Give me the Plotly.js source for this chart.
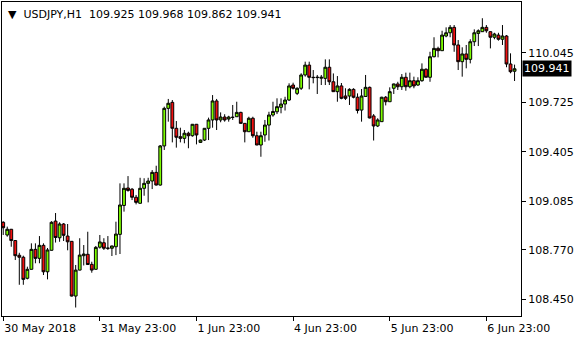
<!DOCTYPE html>
<html>
<head>
<meta charset="utf-8">
<script src="https://cdn.plot.ly/plotly-3.0.1.min.js"></script>
<style>html,body{margin:0;padding:0;background:#fff;}#chart{width:580px;height:340px;}</style>
</head>
<body>
<div id="chart"></div>
<script>
// USDJPY H1 bars, 30 May 2018 23:00 onwards
const openP = [108.948,108.866,108.903,108.830,108.735,108.722,108.586,108.644,108.773,108.715,
108.799,108.628,108.767,108.956,108.848,108.937,108.859,108.825,108.471,108.639,
108.732,108.741,108.676,108.644,108.787,108.816,108.781,108.780,108.790,108.870,
109.057,109.170,109.162,109.110,109.071,109.168,109.200,109.215,109.271,109.189,
109.442,109.685,109.724,109.556,109.502,109.491,109.524,109.508,109.582,109.465,
109.480,109.556,109.610,109.733,109.610,109.629,109.616,109.627,109.631,109.659,
109.588,109.534,109.621,109.508,109.448,109.513,109.577,109.642,109.663,109.692,
109.713,109.739,109.836,109.782,109.815,109.901,109.965,109.886,109.884,109.880,
109.879,109.951,109.857,109.793,109.830,109.765,109.765,109.808,109.757,109.674,
109.762,109.821,109.636,109.571,109.599,109.757,109.728,109.815,109.843,109.825,
109.886,109.825,109.864,109.836,109.864,109.938,109.886,110.019,110.073,110.058,
110.153,110.174,110.209,110.095,109.987,110.037,110.002,110.116,110.170,110.181,
110.209,110.181,110.145,110.159,110.132,110.153,109.972,109.925];

const highP = [108.955,108.920,108.905,108.833,108.751,108.732,108.661,108.812,108.812,108.859,
108.812,108.782,108.955,109.008,108.948,108.943,108.937,108.827,108.672,108.845,
108.801,108.887,108.693,108.795,108.866,108.845,108.859,108.797,108.952,109.200,
109.200,109.247,109.170,109.125,109.236,109.233,109.236,109.286,109.314,109.448,
109.696,109.746,109.739,109.603,109.560,109.545,109.534,109.584,109.584,109.483,
109.558,109.625,109.771,109.746,109.659,109.647,109.637,109.707,109.728,109.663,
109.590,109.631,109.631,109.534,109.534,109.610,109.663,109.728,109.750,109.750,
109.760,109.847,109.851,109.821,109.912,109.987,109.987,109.933,109.901,109.901,
110.002,110.002,109.911,109.894,109.849,109.815,109.815,109.815,109.782,109.810,
109.901,109.826,109.648,109.621,109.760,109.765,109.821,109.845,109.857,109.907,
109.916,109.916,109.890,109.886,109.976,109.944,110.051,110.145,110.084,110.187,
110.209,110.224,110.224,110.127,110.080,110.095,110.132,110.196,110.196,110.268,
110.224,110.183,110.174,110.174,110.224,110.159,110.041,109.968];

const lowP = [108.866,108.855,108.790,108.704,108.544,108.544,108.579,108.642,108.683,108.683,
108.607,108.579,108.765,108.817,108.822,108.827,108.767,108.468,108.397,108.637,
108.669,108.673,108.622,108.642,108.778,108.769,108.769,108.730,108.736,108.743,
109.017,109.146,109.092,109.064,109.069,109.120,109.077,109.163,109.186,109.185,
109.416,109.599,109.465,109.431,109.465,109.459,109.427,109.502,109.452,109.461,
109.474,109.480,109.560,109.545,109.595,109.599,109.599,109.610,109.629,109.586,
109.465,109.533,109.495,109.447,109.372,109.469,109.477,109.631,109.648,109.653,
109.671,109.733,109.807,109.771,109.804,109.890,109.808,109.847,109.778,109.836,
109.836,109.836,109.791,109.728,109.744,109.739,109.707,109.750,109.652,109.599,
109.760,109.620,109.477,109.564,109.598,109.704,109.727,109.778,109.804,109.804,
109.799,109.815,109.815,109.830,109.857,109.885,109.857,110.015,110.015,110.056,
110.145,110.145,110.051,109.933,109.890,109.944,109.976,110.088,110.088,110.180,
110.174,110.073,110.132,110.123,110.095,109.951,109.912,109.862];

const closeP = [108.913,108.903,108.830,108.732,108.722,108.579,108.644,108.773,108.715,108.799,
108.628,108.769,108.948,108.850,108.937,108.864,108.822,108.471,108.639,108.736,
108.743,108.675,108.639,108.786,108.821,108.780,108.780,108.795,108.872,109.060,
109.168,109.154,109.110,109.077,109.168,109.200,109.215,109.271,109.189,109.442,
109.685,109.718,109.556,109.498,109.491,109.524,109.508,109.582,109.513,109.480,
109.556,109.610,109.733,109.610,109.629,109.610,109.629,109.627,109.659,109.588,
109.534,109.621,109.508,109.448,109.508,109.577,109.642,109.665,109.696,109.713,
109.739,109.830,109.815,109.815,109.901,109.965,109.886,109.884,109.886,109.886,
109.951,109.857,109.793,109.830,109.750,109.750,109.808,109.757,109.671,109.765,
109.821,109.623,109.571,109.610,109.757,109.728,109.793,109.843,109.825,109.886,
109.825,109.864,109.830,109.864,109.938,109.886,110.019,110.073,110.058,110.159,
110.174,110.209,110.095,109.987,110.037,110.002,110.116,110.174,110.187,110.209,
110.187,110.145,110.166,110.132,110.153,109.972,109.922,109.941];

const xTickBars = [0, 24, 48, 72, 96, 120];
const xTickLabels = ['30 May 2018', '31 May 23:00', '1 Jun 23:00', '4 Jun 23:00', '5 Jun 23:00', '6 Jun 23:00'];
const yTickVals = [110.045, 109.725, 109.405, 109.085, 108.770, 108.450];
const yTickLabels = ['110.045', '109.725', '109.405', '109.085', '108.770', '108.450'];
const symbol = 'USDJPY,H1';
const lastPrice = 109.941;

const barIndex = openP.map((_, i) => i);
const last = openP.length - 1;
const fnt = 'DejaVu Sans, sans-serif';
const fmt = v => v.toFixed(3);
const header = '\u25BC\u00A0\u00A0' + symbol + '\u00A0\u00A0' +
  [openP[last], highP[last], lowP[last], closeP[last]].map(fmt).join(' ');

const trace = {
  type: 'candlestick',
  x: barIndex,
  open: openP, high: highP, low: lowP, close: closeP,
  increasing: {line: {color: '#000000', width: 1}, fillcolor: '#7CFC00'},
  decreasing: {line: {color: '#000000', width: 1}, fillcolor: '#F01010'},
  whiskerwidth: 0,
  hoverinfo: 'none'
};

const layout = {
  width: 580, height: 340,
  margin: {l: 2, r: 59, t: 2, b: 24, pad: 0},
  paper_bgcolor: '#ffffff', plot_bgcolor: '#ffffff',
  showlegend: false,
  boxgap: 0.3, boxgroupgap: 0,
  font: {family: fnt, size: 11, color: '#000000'},
  xaxis: {
    range: [-0.3, 128.6],
    rangeslider: {visible: false},
    showgrid: false, zeroline: false,
    showline: true, linecolor: '#000000', linewidth: 1, mirror: true,
    tickmode: 'array', tickvals: xTickBars, ticktext: xTickLabels,
    ticks: 'outside', ticklen: 4, tickcolor: '#000000', tickwidth: 1,
    ticklabelposition: 'outside right', ticklabelstandoff: 2,
    tickfont: {family: fnt, size: 11, color: '#000000'}
  },
  yaxis: {
    side: 'right',
    range: [108.342, 110.373],
    showgrid: false, zeroline: false,
    showline: true, linecolor: '#000000', linewidth: 1, mirror: true,
    tickmode: 'array', tickvals: yTickVals, ticktext: yTickLabels,
    ticks: 'outside', ticklen: 4, tickcolor: '#000000', tickwidth: 1,
    tickfont: {family: fnt, size: 11, color: '#000000'}
  },
  annotations: [
    {
      xref: 'paper', yref: 'paper', x: 0, y: 1, xanchor: 'left', yanchor: 'top',
      xshift: 4, yshift: -4, showarrow: false, text: header,
      font: {family: fnt, size: 11, color: '#000000'}
    },
    {
      xref: 'paper', yref: 'y', x: 1, y: lastPrice, xanchor: 'left', yanchor: 'middle',
      xshift: 1, showarrow: false, text: fmt(lastPrice),
      bgcolor: '#000000', borderpad: 1,
      font: {family: fnt, size: 11, color: '#ffffff'}
    }
  ]
};

Plotly.newPlot('chart', [trace], layout, {displayModeBar: false, staticPlot: true});
</script>
</body>
</html>
